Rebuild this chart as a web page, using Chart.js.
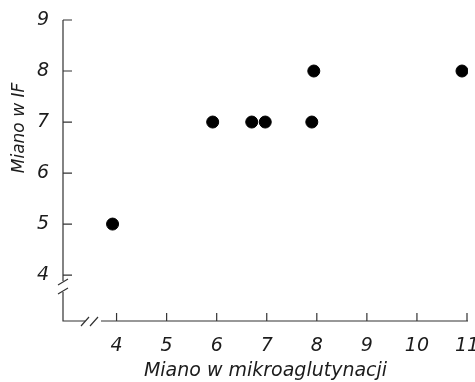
<!DOCTYPE html>
<html><head><meta charset="utf-8">
<script src="https://cdn.jsdelivr.net/npm/chart.js@4/dist/chart.umd.min.js"></script>
<style>html,body{margin:0;padding:0;background:#fff}#wrap{width:475px;height:382px}</style>
</head><body><div id="wrap"><canvas id="c"></canvas></div>
<script>
const xTicks = [4, 5, 6, 7, 8, 9, 10, 11];
const yTicks = [4, 5, 6, 7, 8, 9];
const xValues = [3.92, 5.92, 6.7, 6.97, 7.9, 7.94, 10.9];
const yValues = [5, 7, 7, 7, 7, 8, 8];
const xTitle = 'Miano w mikroaglutynacji';
const yTitle = 'Miano w IF';

const points = xValues.map((x, i) => ({x: x, y: yValues[i]}));
const ink = '#1c1c1c';
const fontFam = '"DejaVu Sans", sans-serif';

const axesPlugin = {
  id: 'brokenAxes',
  afterDraw(chart) {
    const ctx = chart.ctx, xs = chart.scales.x, ys = chart.scales.y;
    const L = xs.left, B = ys.bottom, T = ys.top, R = xs.right;
    ctx.save();
    ctx.strokeStyle = '#333';
    ctx.lineWidth = 1.2;
    const y4 = ys.getPixelForValue(4);
    ctx.beginPath();
    ctx.moveTo(L, T); ctx.lineTo(L, y4 + 6);
    ctx.moveTo(L, y4 + 17); ctx.lineTo(L, B);
    ctx.lineTo(L + 22, B);
    ctx.moveTo(L + 38, B); ctx.lineTo(R, B);
    ctx.stroke();
    ctx.beginPath();
    ctx.moveTo(L - 5, y4 + 10); ctx.lineTo(L + 5, y4 + 4);
    ctx.moveTo(L - 5, y4 + 19); ctx.lineTo(L + 5, y4 + 13);
    ctx.moveTo(L + 18, B + 5); ctx.lineTo(L + 26, B - 4);
    ctx.moveTo(L + 27, B + 5); ctx.lineTo(L + 35, B - 4);
    ctx.stroke();
    ctx.beginPath();
    yTicks.forEach(v => { const p = ys.getPixelForValue(v); ctx.moveTo(L, p); ctx.lineTo(L + 9, p); });
    xTicks.forEach(v => { const p = xs.getPixelForValue(v); ctx.moveTo(p, B); ctx.lineTo(p, B - 8); });
    ctx.stroke();
    // y axis title placed as in the reference (upper half)
    ctx.fillStyle = ink;
    ctx.font = 'italic 17px ' + fontFam;
    ctx.textAlign = 'center';
    ctx.textBaseline = 'middle';
    ctx.translate(20, 128);
    ctx.rotate(-Math.PI / 2);
    ctx.fillText(yTitle, 0, 0);
    ctx.restore();
  }
};

new Chart(document.getElementById('c'), {
  type: 'scatter',
  data: { datasets: [{ data: points, backgroundColor: '#000', borderColor: '#000', pointRadius: 6, pointHoverRadius: 6 }] },
  options: {
    responsive: true, maintainAspectRatio: false, animation: false,
    layout: { padding: { top: 20, right: 5, left: 0, bottom: 0 } },
    plugins: { legend: { display: false }, tooltip: { enabled: false } },
    scales: {
      x: {
        type: 'linear', min: 2.93, max: 11.02,
        afterBuildTicks: s => { s.ticks = xTicks.map(v => ({value: v})); },
        grid: { display: false, drawTicks: false }, border: { display: false },
        ticks: { padding: 14, color: ink, font: { family: fontFam, style: 'italic', size: 19 }, maxRotation: 0, autoSkip: false },
        title: { display: true, text: xTitle, color: ink, padding: { top: 0, bottom: 0 }, font: { family: fontFam, style: 'italic', size: 19 } },
        afterFit: s => { s.height = 61; s.paddingLeft = 0; s.paddingRight = 0; }
      },
      y: {
        type: 'linear', min: 3.1, max: 9,
        afterBuildTicks: s => { s.ticks = yTicks.map(v => ({value: v})); },
        grid: { display: false, drawTicks: false }, border: { display: false },
        ticks: { padding: 14, color: ink, font: { family: fontFam, style: 'italic', size: 19 } },
        title: { display: false },
        afterFit: s => { s.width = 63; s.paddingTop = 0; s.paddingBottom = 0; }
      }
    }
  },
  plugins: [axesPlugin]
});
</script></body></html>
